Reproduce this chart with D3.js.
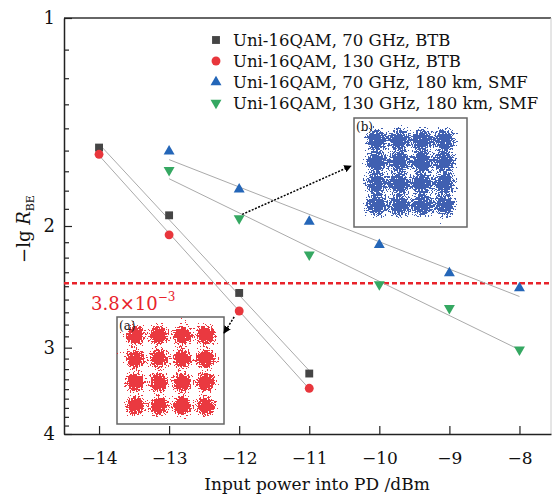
<!DOCTYPE html>
<html>
<head>
<meta charset="utf-8">
<script src="https://cdn.jsdelivr.net/npm/d3@7"></script>
<style>
  body { margin: 0; background: #fff; }
  text { font-family: "DejaVu Serif", "Liberation Serif", serif; }
</style>
</head>
<body>
<div id="myDiv"></div>
<script>
// Data
var powerBTB = [-14, -13, -12, -11];
var powerSMF = [-13, -12, -11, -10, -9, -8];
var btb70 = [1.54, 1.93, 2.50, 3.27];
var btb130 = [1.575, 2.06, 2.655, 3.435];
var smf70 = [1.56, 1.77, 1.97, 2.13, 2.34, 2.46];
var smf130 = [1.66, 1.95, 2.20, 2.43, 2.63, 3.02];
var seriesNames = ['Uni-16QAM, 70 GHz, BTB', 'Uni-16QAM, 130 GHz, BTB',
  'Uni-16QAM, 70 GHz, 180 km, SMF', 'Uni-16QAM, 130 GHz, 180 km, SMF'];
var xTicks = [-14, -13, -12, -11, -10, -9, -8];
var yTicks = [1, 2, 3, 4];
var berLimit = 3.8e-3;
var qamLevels = [-3, -1, 1, 3];

// Styles
var colors = ['#454545', '#e8363c', '#2466b8', '#35a862'];
var symbols = [d3.symbolSquare, d3.symbolCircle, d3.symbolTriangle, d3.symbolTriangle];
var symbolSizes = [62, 62, 52, 52];

var width = 553, height = 496;
var margin = {top: 18, right: 2, bottom: 62, left: 64};

var svg = d3.select('#myDiv').append('svg')
  .attr('width', width)
  .attr('height', height);

var x = d3.scaleLinear().domain([-14.5, -7.55]).range([margin.left, width - margin.right]);
var y = d3.scaleLog().domain([1, 4]).range([margin.top, height - margin.bottom]);

var defs = svg.append('defs');
defs.append('marker')
  .attr('id', 'arrow')
  .attr('viewBox', '0 0 10 10')
  .attr('refX', 9).attr('refY', 5)
  .attr('markerWidth', 5).attr('markerHeight', 5)
  .attr('orient', 'auto')
  .append('path').attr('d', 'M0,0 L10,5 L0,10 z').attr('fill', '#000');

// frame
svg.append('line')
  .attr('x1', margin.left).attr('x2', width - margin.right)
  .attr('y1', margin.top).attr('y2', margin.top)
  .attr('stroke', '#333').attr('stroke-width', 1.5);
svg.append('line')
  .attr('x1', width - margin.right).attr('x2', width - margin.right)
  .attr('y1', margin.top).attr('y2', height - margin.bottom)
  .attr('stroke', '#ccc').attr('stroke-width', 1);

// x axis
var xAxis = svg.append('g')
  .attr('transform', 'translate(0,' + (height - margin.bottom) + ')')
  .call(d3.axisBottom(x).tickValues(xTicks).tickFormat(d3.format('d'))
    .tickSizeInner(-8).tickSizeOuter(0).tickPadding(18));
xAxis.select('.domain').attr('stroke', '#222').attr('stroke-width', 1.5);
xAxis.selectAll('.tick line').attr('stroke', '#222').attr('stroke-width', 1.2);
xAxis.selectAll('text').attr('font-size', 17).attr('fill', '#111')
  .attr('font-family', '"DejaVu Serif", serif');

// y axis, minor ticks at i + k/9
var minor = [];
for (var i = 1; i < 4; i++) {
  for (var k = 1; k < 9; k++) minor.push(i + k / 9);
}
var yMinor = svg.append('g')
  .attr('transform', 'translate(' + margin.left + ',0)')
  .call(d3.axisLeft(y).tickValues(minor).tickSize(-5).tickFormat(''));
yMinor.select('.domain').remove();
yMinor.selectAll('.tick line').attr('stroke', '#222').attr('stroke-width', 1.2);

var yAxis = svg.append('g')
  .attr('transform', 'translate(' + margin.left + ',0)')
  .call(d3.axisLeft(y).tickValues(yTicks).tickFormat(d3.format('d'))
    .tickSizeInner(-8).tickSizeOuter(0).tickPadding(9));
yAxis.select('.domain').attr('stroke', '#222').attr('stroke-width', 1.5);
yAxis.selectAll('.tick line').attr('stroke', '#222').attr('stroke-width', 1.2);
yAxis.selectAll('text').attr('font-size', 18).attr('fill', '#111')
  .attr('font-family', '"DejaVu Serif", serif');

// axis titles
svg.append('text')
  .attr('x', 317).attr('y', 490)
  .attr('text-anchor', 'middle')
  .attr('font-size', 17).attr('fill', '#111')
  .text('Input power into PD /dBm');

var yTitle = svg.append('text')
  .attr('transform', 'translate(30,229) rotate(-90)')
  .attr('text-anchor', 'middle')
  .attr('font-size', 18).attr('fill', '#111');
yTitle.append('tspan').text('\u2212lg ');
yTitle.append('tspan').attr('font-style', 'italic').text('R');
yTitle.append('tspan').attr('font-size', 11).attr('dy', 4).text('BE');

// threshold line
var limitV = -Math.log10(berLimit);
svg.append('line')
  .attr('x1', margin.left).attr('x2', width - margin.right)
  .attr('y1', y(limitV)).attr('y2', y(limitV))
  .attr('stroke', '#e8222a').attr('stroke-width', 2.5)
  .attr('stroke-dasharray', '5,3');
var limLabel = svg.append('text')
  .attr('x', 91).attr('y', y(limitV) + 27)
  .attr('font-size', 18).attr('fill', '#e8222a');
limLabel.append('tspan').text('3.8\u00d710');
limLabel.append('tspan').attr('font-size', 12).attr('dy', -9).text('\u22123');

// series
var series = [
  {px: powerBTB, v: btb70},
  {px: powerBTB, v: btb130},
  {px: powerSMF, v: smf70},
  {px: powerSMF, v: smf130}
];

// linear fits in log space
series.forEach(function(s) {
  var n = s.px.length;
  var mx = d3.mean(s.px), my = d3.mean(s.v, function(d) { return Math.log10(d); });
  var sxy = 0, sxx = 0;
  s.px.forEach(function(p, j) {
    sxy += (p - mx) * (Math.log10(s.v[j]) - my);
    sxx += (p - mx) * (p - mx);
  });
  var b = sxy / sxx;
  var ends = [s.px[0], s.px[n - 1]];
  svg.append('line')
    .attr('x1', x(ends[0])).attr('x2', x(ends[1]))
    .attr('y1', y(Math.pow(10, my + b * (ends[0] - mx))))
    .attr('y2', y(Math.pow(10, my + b * (ends[1] - mx))))
    .attr('stroke', '#aaa').attr('stroke-width', 1);
});

series.forEach(function(s, si) {
  svg.append('g').selectAll('path')
    .data(s.v)
    .enter().append('path')
      .attr('d', d3.symbol().type(symbols[si]).size(symbolSizes[si]))
      .attr('transform', function(d, j) {
        return 'translate(' + x(s.px[j]) + ',' + y(d) + ')' + (si === 3 ? ' rotate(180)' : '');
      })
      .attr('fill', colors[si]);
});

// legend
var legend = svg.append('g').attr('transform', 'translate(216,40)');
seriesNames.forEach(function(name, i) {
  legend.append('path')
    .attr('d', d3.symbol().type(symbols[i]).size(symbolSizes[i]))
    .attr('transform', 'translate(0,' + (i * 21) + ')' + (i === 3 ? ' rotate(180)' : ''))
    .attr('fill', colors[i]);
  legend.append('text')
    .attr('x', 17).attr('y', i * 21 + 6)
    .attr('font-size', 16.5).attr('fill', '#111')
    .text(name);
});

// constellation insets: clusters rendered as speckled blobs
function inset(id, box, spread, color, blobR, haze, density, label) {
  var f = defs.append('filter').attr('id', id)
    .attr('filterUnits', 'userSpaceOnUse')
    .attr('color-interpolation-filters', 'sRGB')
    .attr('x', box.x).attr('y', box.y).attr('width', box.w).attr('height', box.h);
  f.append('feTurbulence').attr('type', 'fractalNoise').attr('baseFrequency', 0.6)
    .attr('numOctaves', 2).attr('seed', id === 'insA' ? 4 : 9).attr('result', 'noise');
  f.append('feColorMatrix').attr('in', 'noise').attr('type', 'matrix')
    .attr('values', '0 0 0 0 0  0 0 0 0 0  0 0 0 0 0  1 0 0 0 0').attr('result', 'na');
  f.append('feComposite').attr('in', 'SourceAlpha').attr('in2', 'na')
    .attr('operator', 'arithmetic').attr('k1', 0).attr('k2', 1).attr('k3', -1.5).attr('k4', density)
    .attr('result', 'diff');
  f.append('feComponentTransfer').attr('in', 'diff').attr('result', 'bin')
    .append('feFuncA').attr('type', 'discrete').attr('tableValues', '0 0.9');
  f.append('feFlood').attr('flood-color', color).attr('result', 'col');
  f.append('feComposite').attr('in', 'col').attr('in2', 'bin').attr('operator', 'in');

  var grad = defs.append('radialGradient').attr('id', id + 'g');
  grad.append('stop').attr('offset', '0%').attr('stop-opacity', 1);
  grad.append('stop').attr('offset', '35%').attr('stop-opacity', 0.85);
  grad.append('stop').attr('offset', '70%').attr('stop-opacity', 0.35);
  grad.append('stop').attr('offset', '100%').attr('stop-opacity', 0);

  var sx = d3.scaleLinear().domain([-spread, spread]).range([box.x, box.x + box.w]);
  var sy = d3.scaleLinear().domain([spread, -spread]).range([box.y, box.y + box.h]);
  var g = svg.append('g');
  g.append('rect')
    .attr('x', box.x).attr('y', box.y).attr('width', box.w).attr('height', box.h)
    .attr('fill', '#fff').attr('stroke', '#666').attr('stroke-width', 1.5);
  var pts = [];
  qamLevels.forEach(function(a) { qamLevels.forEach(function(b) { pts.push([a, b]); }); });
  var cg = g.append('g').attr('filter', 'url(#' + id + ')');
  cg.append('rect')
    .attr('x', sx(-4.2)).attr('y', sy(4.2))
    .attr('width', sx(4.2) - sx(-4.2)).attr('height', sy(-4.2) - sy(4.2))
    .attr('fill', '#000').attr('fill-opacity', haze);
  cg.selectAll('circle').data(pts).enter().append('circle')
    .attr('cx', function(d) { return sx(d[0]); })
    .attr('cy', function(d) { return sy(d[1]); })
    .attr('r', blobR)
    .attr('fill', 'url(#' + id + 'g)');
  g.append('text')
    .attr('x', box.x + 2).attr('y', box.y + 13)
    .attr('font-size', 12).attr('fill', '#111')
    .text(label);
}

inset('insA', {x: 117, y: 317, w: 107, h: 107}, 4.55, '#e8222a', 14, 0.02, 0.8, '(a)');
inset('insB', {x: 354, y: 118, w: 113, h: 109}, 5, '#2a4ea8', 16, 0.15, 0.7, '(b)');

// dotted arrows from data points to insets
svg.append('line')
  .attr('x1', x(-12) - 5).attr('y1', y(btb130[2]) + 6)
  .attr('x2', 224).attr('y2', 333)
  .attr('stroke', '#000').attr('stroke-width', 1.5)
  .attr('stroke-dasharray', '2,1.5')
  .attr('marker-end', 'url(#arrow)');
svg.append('line')
  .attr('x1', x(-12) + 3).attr('y1', y(smf130[1]) - 4)
  .attr('x2', 351).attr('y2', 166)
  .attr('stroke', '#000').attr('stroke-width', 1.5)
  .attr('stroke-dasharray', '2,1.5')
  .attr('marker-end', 'url(#arrow)');
</script>
</body>
</html>
